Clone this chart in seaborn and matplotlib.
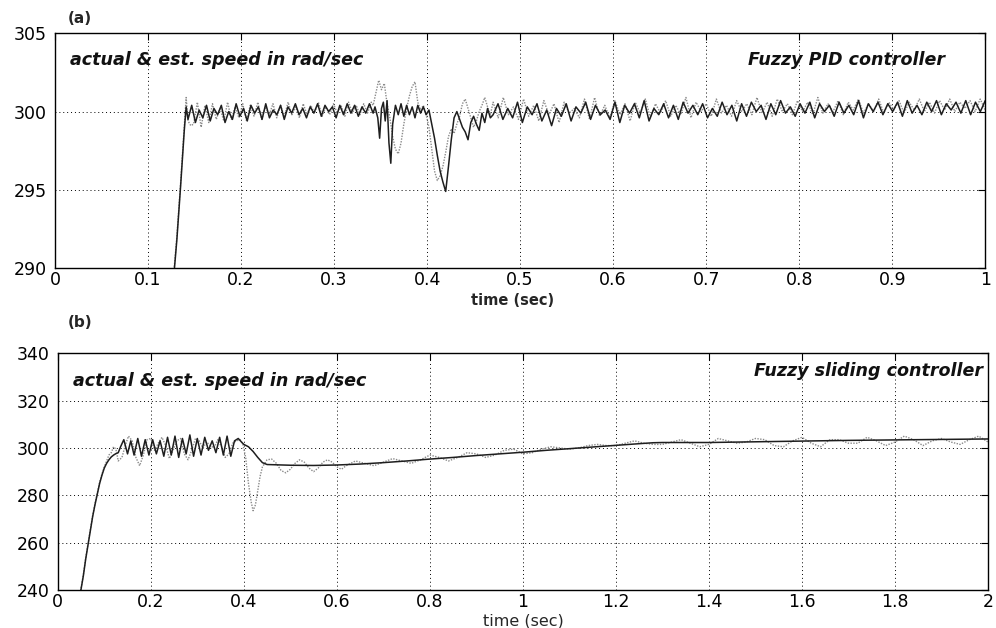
import numpy as np
import pandas as pd
import matplotlib
matplotlib.use("Agg")
import matplotlib.pyplot as plt
import seaborn as sns

# ---------------- data ----------------
# (a) Fuzzy PID controller, actual speed (solid)
a_rise_t = [0.127, 0.131, 0.135, 0.139, 0.141]
a_rise_y = [289.0, 291.8, 295.2, 298.8, 300.3]
a_steady1 = [299.5, 300.4, 299.3, 300.1, 299.6, 300.4, 299.4, 300.2, 299.8, 300.4,
             299.3, 300.0, 299.5, 300.5, 299.7, 300.2, 299.4, 300.4, 299.9, 300.3,
             299.5, 300.5, 299.6, 300.1, 299.8, 300.4, 299.5, 300.3, 299.9, 300.5,
             299.8, 300.2, 299.6, 300.3, 299.9, 300.5, 299.7, 300.4, 300.0, 300.3,
             299.6, 300.4, 299.8, 300.5, 299.9, 300.4, 299.7, 300.3, 299.9, 300.5, 299.9]
a_dist_t = [0.344, 0.347, 0.349, 0.351, 0.353, 0.355, 0.357, 0.359, 0.361, 0.363,
            0.366, 0.369, 0.372, 0.375, 0.378, 0.381, 0.384, 0.387, 0.390, 0.393,
            0.396, 0.399, 0.402, 0.405, 0.408, 0.411, 0.414, 0.417, 0.420, 0.423,
            0.426, 0.429, 0.432, 0.435, 0.438, 0.441, 0.444, 0.447, 0.450, 0.453,
            0.456, 0.459, 0.462, 0.465, 0.468]
a_dist_y = [300.3, 299.6, 298.3, 300.2, 300.6, 299.4, 300.7, 298.0, 296.7, 299.2,
            300.4, 299.8, 300.5, 299.7, 300.4, 299.8, 300.3, 299.6, 300.4, 299.9,
            300.3, 299.8, 300.1, 299.2, 298.3, 297.2, 296.2, 295.5, 294.9, 296.5,
            298.2, 299.6, 300.0, 299.5, 299.0, 298.7, 298.2, 299.3, 299.7, 299.2,
            298.8, 299.9, 299.3, 300.2, 299.6]
a_steady2 = [299.8, 300.5, 299.5, 300.2, 299.6, 300.6, 299.3, 300.3, 299.8, 300.5,
             299.4, 300.1, 299.1, 300.2, 299.7, 300.5, 299.4, 300.3, 299.9, 300.6,
             299.5, 300.4, 299.8, 300.1, 299.5, 300.6, 299.3, 300.4, 299.9, 300.5,
             299.6, 300.7, 299.4, 300.2, 299.8, 300.5, 299.6, 300.4, 299.5, 300.6,
             299.9, 300.4, 299.8, 300.5, 299.6, 300.2, 299.7, 300.6, 299.8, 300.4,
             299.4, 300.5, 299.7, 300.6, 300.0, 300.4, 299.5, 300.5, 299.8, 300.7,
             299.9, 300.3, 299.7, 300.5, 299.9, 300.6, 299.6, 300.5, 300.0, 300.4,
             299.7, 300.6, 299.9, 300.4, 299.8, 300.7, 299.6, 300.5, 300.0, 300.6,
             299.8, 300.5, 300.0, 300.6, 299.7, 300.7, 299.9, 300.4, 299.8, 300.6,
             300.0, 300.7, 299.8, 300.5, 300.1, 300.6, 299.9, 300.7, 299.8, 300.6,
             300.0, 300.7]

# (a) estimated speed (dotted)
e_rise_t = [0.127, 0.131, 0.135, 0.139, 0.141, 0.143, 0.146]
e_rise_y = [289.2, 292.0, 295.4, 299.0, 300.9, 299.4, 299.1]
e_steady1 = [299.2, 300.6, 299.0, 300.4, 299.3, 300.5, 299.5, 300.2, 299.4, 300.6,
             299.5, 300.3, 299.6, 300.5, 299.4, 300.4, 299.7, 300.6, 299.5, 300.3,
             299.8, 300.5, 299.6, 300.4, 299.7, 300.6, 299.8, 300.3, 299.6, 300.5,
             299.8, 300.4, 299.9, 300.6, 299.7, 300.3, 299.8, 300.5, 299.9, 300.4,
             299.7, 300.6, 299.9, 300.4, 299.8, 300.5, 299.9, 300.6]
e_dist_t = [0.342, 0.345, 0.348, 0.351, 0.354, 0.357, 0.360, 0.363, 0.366, 0.369,
            0.372, 0.375, 0.378, 0.381, 0.384, 0.387, 0.390, 0.393, 0.396, 0.399,
            0.402, 0.405, 0.408, 0.411, 0.414, 0.417, 0.420, 0.423, 0.426, 0.429,
            0.432, 0.435, 0.438, 0.441, 0.444, 0.447, 0.450, 0.453, 0.456, 0.459,
            0.462, 0.465, 0.468]
e_dist_y = [300.4, 301.2, 302.0, 301.4, 301.8, 300.5, 299.6, 298.4, 297.6, 297.3,
            298.0, 299.2, 300.2, 301.0, 301.6, 301.9, 300.6, 300.1, 300.4, 299.8,
            299.0, 297.6, 296.2, 295.6, 295.9, 296.5, 297.4, 298.4, 298.9, 298.6,
            299.2, 299.7, 300.5, 300.8, 300.2, 299.6, 299.0, 299.4, 300.0, 300.4,
            300.9, 300.3, 299.8]
e_steady2 = [300.6, 299.6, 300.9, 299.8, 300.3, 299.5, 300.8, 299.7, 300.4, 299.4,
             300.7, 299.8, 300.5, 299.3, 300.6, 299.9, 300.2, 299.6, 300.8, 299.5,
             300.9, 299.7, 300.4, 299.6, 300.7, 299.8, 300.5, 299.4, 300.6, 299.9,
             300.8, 299.6, 300.5, 299.9, 300.7, 299.7, 300.4, 299.8, 300.9, 299.6,
             300.6, 300.0, 300.5, 299.7, 300.8, 299.9, 300.4, 299.7, 300.7, 300.0,
             300.5, 299.8, 300.9, 299.9, 300.6, 299.7, 300.8, 300.0, 300.5, 299.8,
             300.7, 300.0, 300.6, 299.8, 300.9, 299.9, 300.5, 300.0, 300.7, 299.8,
             300.6, 300.1, 300.8, 299.9, 300.5, 300.0, 300.8, 299.9, 300.6, 300.1,
             300.7, 299.9, 300.6, 300.1, 300.8, 300.0, 300.6, 299.9, 300.7, 300.1,
             300.8, 300.0, 300.6, 300.2, 300.7, 300.0, 300.8, 300.1]

# (b) Fuzzy sliding controller, actual speed (solid)
b_act_t = [0.048, 0.055, 0.060, 0.065, 0.070, 0.075, 0.080, 0.085, 0.090, 0.095,
           0.100, 0.105, 0.110, 0.115, 0.120, 0.125, 0.130,
           0.135, 0.142, 0.150, 0.157, 0.164, 0.172, 0.180, 0.188, 0.196, 0.204,
           0.212, 0.220, 0.228, 0.236, 0.244, 0.252, 0.260, 0.268, 0.276, 0.284,
           0.292, 0.300, 0.308, 0.316, 0.324, 0.332, 0.340, 0.348, 0.356, 0.364,
           0.372, 0.380, 0.388, 0.395, 0.400, 0.410, 0.420, 0.430, 0.440, 0.450,
           0.50, 0.55, 0.60, 0.65, 0.70, 0.75, 0.80, 0.85, 0.90, 0.95, 1.00,
           1.05, 1.10, 1.15, 1.20, 1.25, 1.28, 1.30, 1.40, 1.50, 1.60, 1.70,
           1.80, 1.90, 2.00]
b_act_y = [238.0, 246.0, 253.0, 259.0, 265.0, 271.0, 276.0, 280.5, 285.0, 288.5,
           291.5, 293.5, 295.0, 296.2, 297.0, 297.6, 298.0,
           300.5, 303.5, 297.5, 303.0, 297.0, 304.0, 296.5, 303.5, 297.0, 303.5,
           297.5, 303.0, 296.5, 304.5, 297.0, 305.0, 296.0, 304.0, 297.5, 305.5,
           296.5, 304.0, 297.0, 304.5, 299.0, 303.0, 298.0, 304.5, 297.0, 305.0,
           296.5, 303.0, 304.0, 302.5, 301.5, 300.5, 298.5, 296.0, 293.8, 293.0,
           292.7, 292.6, 292.8, 293.2, 293.8, 294.5, 295.3, 296.0, 296.8, 297.5, 298.2,
           299.0, 299.7, 300.4, 301.1, 301.8, 302.2, 302.3, 302.3, 302.6, 302.9, 303.2,
           303.4, 303.6, 303.8]

# (b) estimated speed (dotted)
b_est_t = [0.048, 0.055, 0.060, 0.065, 0.070, 0.075, 0.080, 0.085, 0.090, 0.095,
           0.100, 0.105, 0.110, 0.115, 0.120, 0.125, 0.130, 0.138, 0.145, 0.152,
           0.160, 0.168, 0.176, 0.184, 0.192, 0.200, 0.208, 0.216, 0.224, 0.232,
           0.240, 0.248, 0.256, 0.264, 0.272, 0.280, 0.288, 0.296, 0.304, 0.312,
           0.320, 0.328, 0.336, 0.344, 0.352, 0.360, 0.368, 0.376, 0.384, 0.392,
           0.398, 0.404, 0.410, 0.416, 0.420, 0.425, 0.430, 0.435, 0.440, 0.450,
           0.460, 0.470, 0.480, 0.490, 0.500, 0.510, 0.520, 0.530, 0.540, 0.550,
           0.560, 0.570, 0.580, 0.590, 0.600, 0.610, 0.620, 0.640, 0.660, 0.680,
           0.700, 0.720, 0.740, 0.760, 0.780, 0.800, 0.820, 0.840, 0.860, 0.880,
           0.900, 0.920, 0.940, 0.960, 0.980, 1.000, 1.020, 1.040, 1.060, 1.080,
           1.100, 1.120, 1.140, 1.160, 1.180, 1.200, 1.220, 1.240, 1.260, 1.280,
           1.300, 1.320, 1.340, 1.360, 1.380, 1.400, 1.420, 1.440, 1.460, 1.480,
           1.500, 1.520, 1.540, 1.560, 1.580, 1.600, 1.620, 1.640, 1.660, 1.680,
           1.700, 1.720, 1.740, 1.760, 1.780, 1.800, 1.820, 1.840, 1.860, 1.880,
           1.900, 1.920, 1.940, 1.960, 1.980, 2.000]
b_est_y = [238.5, 246.5, 253.5, 259.5, 265.5, 271.5, 276.5, 281.0, 285.5, 289.0,
           292.0, 294.5, 297.0, 298.0, 300.5, 299.5, 294.5, 296.0, 301.0, 305.0,
           303.0, 296.0, 292.5, 297.0, 303.5, 304.0, 299.0, 302.0, 304.5, 301.0,
           295.5, 299.0, 303.0, 304.0, 297.5, 295.0, 299.0, 304.0, 303.0, 300.0,
           302.5, 301.0, 300.0, 303.5, 300.5, 296.0, 297.5, 302.0, 303.0, 303.5,
           301.5, 296.0, 285.0, 277.0, 273.5, 276.0, 282.0, 288.0, 292.0, 295.0,
           295.3, 293.5, 290.5, 289.5, 291.0, 293.5, 295.0, 294.0, 291.5, 290.0,
           291.5, 294.0, 295.0, 294.0, 292.0, 291.0, 292.5, 294.5, 293.5, 292.5,
           294.0, 295.5, 294.5, 293.5, 295.0, 297.0, 296.0, 294.5, 296.0, 298.0,
           297.5, 296.0, 297.0, 299.0, 299.5, 297.5, 298.0, 299.5, 300.5, 300.0,
           299.5, 300.0, 301.0, 301.5, 301.0, 301.0, 302.0, 303.0, 302.0, 301.5,
           301.5, 302.5, 303.5, 302.0, 300.5, 301.5, 304.0, 303.0, 302.0, 302.5,
           304.0, 303.5, 301.0, 300.5, 303.0, 304.5, 302.0, 300.5, 303.5, 303.5,
           302.0, 302.0, 304.5, 303.0, 301.0, 302.5, 305.0, 303.5, 301.0, 303.0,
           304.0, 302.5, 301.5, 303.5, 305.0, 302.5]

a_xticks = [0, 0.1, 0.2, 0.3, 0.4, 0.5, 0.6, 0.7, 0.8, 0.9, 1]
a_xlabels = ["0", "0.1", "0.2", "0.3", "0.4", "0.5", "0.6", "0.7", "0.8", "0.9", "1"]
a_yticks = [290, 295, 300, 305]
b_xticks = [0, 0.2, 0.4, 0.6, 0.8, 1, 1.2, 1.4, 1.6, 1.8, 2]
b_xlabels = ["0", "0.2", "0.4", "0.6", "0.8", "1", "1.2", "1.4", "1.6", "1.8", "2"]
b_yticks = [240, 260, 280, 300, 320, 340]


def frame(t, y):
    return pd.DataFrame({"t": t, "y": y})


def even(t0, t1, vals):
    # evenly spaced sample times for a run of read-off values
    return frame(np.linspace(t0, t1, len(vals)), vals)


a_act = pd.concat([frame(a_rise_t, a_rise_y), even(0.143, 0.342, a_steady1),
                   frame(a_dist_t, a_dist_y), even(0.471, 1.0, a_steady2)])
a_est = pd.concat([frame(e_rise_t, e_rise_y), even(0.149, 0.340, e_steady1),
                   frame(e_dist_t, e_dist_y), even(0.471, 1.0, e_steady2)])
b_act = frame(b_act_t, b_act_y)
b_est = frame(b_est_t, b_est_y)

# ---------------- plotting ----------------
sns.set_style("white")
plt.rcParams["font.family"] = ["DejaVu Sans"]

fig = plt.figure(figsize=(9.96, 6.28), dpi=100)
ax1 = fig.add_axes([0.0552, 0.573, 0.934, 0.374])
ax2 = fig.add_axes([0.058, 0.0605, 0.934, 0.377])

EST_KW = dict(color="#8a8a8a", linewidth=1.0, linestyle=(0, (1, 1)))
ACT_KW = dict(color="#1e1e1e", linewidth=1.1)

sns.lineplot(data=a_est, x="t", y="y", ax=ax1, sort=False, estimator=None, **EST_KW)
sns.lineplot(data=a_act, x="t", y="y", ax=ax1, sort=False, estimator=None, **ACT_KW)
sns.lineplot(data=b_est, x="t", y="y", ax=ax2, sort=False, estimator=None, **EST_KW)
sns.lineplot(data=b_act, x="t", y="y", ax=ax2, sort=False, estimator=None, **ACT_KW)

for ax, xt, xl, yt, xlim in [(ax1, a_xticks, a_xlabels, a_yticks, (0, 1)),
                             (ax2, b_xticks, b_xlabels, b_yticks, (0, 2))]:
    ax.set_xlim(*xlim)
    ax.set_ylim(yt[0], yt[-1])
    ax.set_xticks(xt)
    ax.set_xticklabels(xl)
    ax.set_yticks(yt)
    ax.tick_params(direction="in", length=5, width=0.8, labelsize=12.5,
                   top=True, right=True, colors="black")
    ax.tick_params(axis="x", pad=2)
    ax.tick_params(axis="y", pad=6)
    ax.grid(True, color="black", linewidth=0.7, linestyle=(0, (1, 3)))
    for s in ax.spines.values():
        s.set_color("black")
        s.set_linewidth(1.0)
    ax.set_ylabel("")

# the two x labels differ a little in the scan: (a) is bold, (b) regular
ax1.set_xlabel("time (sec)", fontsize=10.5, fontweight="bold")
ax1.xaxis.set_label_coords(0.492, -0.105)
ax2.set_xlabel("time (sec)", fontsize=11.5)
ax2.xaxis.set_label_coords(0.50, -0.10)

txt = dict(fontsize=12.6, fontweight="bold", fontstyle="italic", color="#111111")
ax1.text(0.016, 0.885, "actual & est. speed in rad/sec", transform=ax1.transAxes,
         ha="left", va="center", **txt)
ax1.text(0.957, 0.885, "Fuzzy PID controller", transform=ax1.transAxes,
         ha="right", va="center", **txt)
ax2.text(0.016, 0.882, "actual & est. speed in rad/sec", transform=ax2.transAxes,
         ha="left", va="center", **txt)
ax2.text(0.995, 0.924, "Fuzzy sliding controller", transform=ax2.transAxes,
         ha="right", va="center", **txt)

fig.text(0.068, 0.971, "(a)", fontsize=11, fontweight="bold", ha="left", va="center")
fig.text(0.068, 0.487, "(b)", fontsize=11, fontweight="bold", ha="left", va="center")

fig.savefig("out.png", dpi=100, facecolor="white")
